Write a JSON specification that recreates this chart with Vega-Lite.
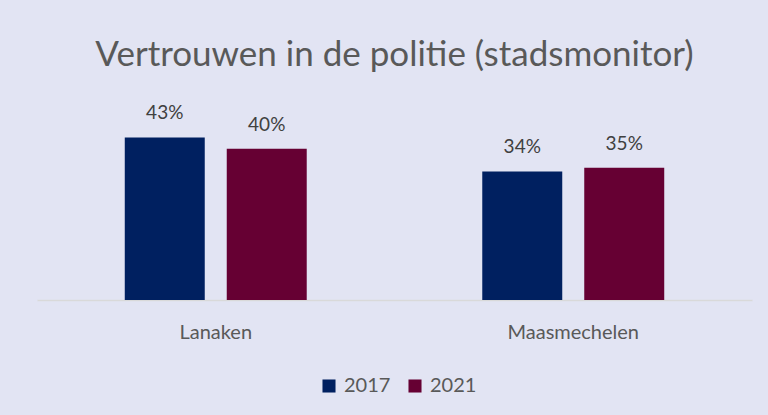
{
  "$schema": "https://vega.github.io/schema/vega-lite/v6.json",
  "width": 715,
  "height": 189,
  "autosize": {"type": "none"},
  "padding": {"left": 37, "top": 111, "right": 16, "bottom": 115},
  "background": "#E2E4F3",
  "config": {"view": {"stroke": null}, "font": "Lato"},
  "title": {"text": "Vertrouwen in de politie (stadsmonitor)", "fontSize": 35, "font": "Lato", "fontWeight": "normal", "color": "#595959", "anchor": "middle", "offset": 31},
  "data": {"values": [
    {"gemeente": "Lanaken", "jaar": "2017", "waarde": 0.43},
    {"gemeente": "Lanaken", "jaar": "2021", "waarde": 0.40},
    {"gemeente": "Maasmechelen", "jaar": "2017", "waarde": 0.34},
    {"gemeente": "Maasmechelen", "jaar": "2021", "waarde": 0.35}
  ]},
  "encoding": {
    "x": {"field": "gemeente", "type": "nominal", "sort": null, "scale": {"paddingInner": 0.491, "paddingOuter": 0.2455},
      "axis": {"title": null, "labelAngle": 0, "ticks": false, "domainColor": "#D9D9D9", "domainWidth": 1.5, "labelFontSize": 20, "labelColor": "#595959", "labelPadding": 22, "labelFont": "Lato"}},
    "xOffset": {"field": "jaar", "type": "nominal", "scale": {"paddingInner": 0.2157, "paddingOuter": 0}},
    "y": {"field": "waarde", "type": "quantitative", "scale": {"domain": [0, 0.5]}, "axis": null},
    "color": {"field": "jaar", "type": "nominal", "scale": {"domain": ["2017", "2021"], "range": ["#002060", "#660033"]},
      "legend": {"title": null, "orient": "none", "legendX": 282, "legendY": 265, "direction": "horizontal", "symbolType": "square", "symbolSize": 170, "symbolStrokeWidth": 0, "labelFontSize": 20, "labelColor": "#595959", "labelFont": "Lato", "columnPadding": 14, "labelOffset": 5, "symbolOpacity": 1}}
  },
  "layer": [
    {"mark": {"type": "bar", "opacity": 1}},
    {"mark": {"type": "text", "baseline": "alphabetic", "dy": -18, "fontSize": 19, "color": "#404040", "font": "Lato"},
      "encoding": {"text": {"field": "waarde", "type": "quantitative", "format": ".0%"}, "color": {"value": "#404040"}}}
  ]
}
